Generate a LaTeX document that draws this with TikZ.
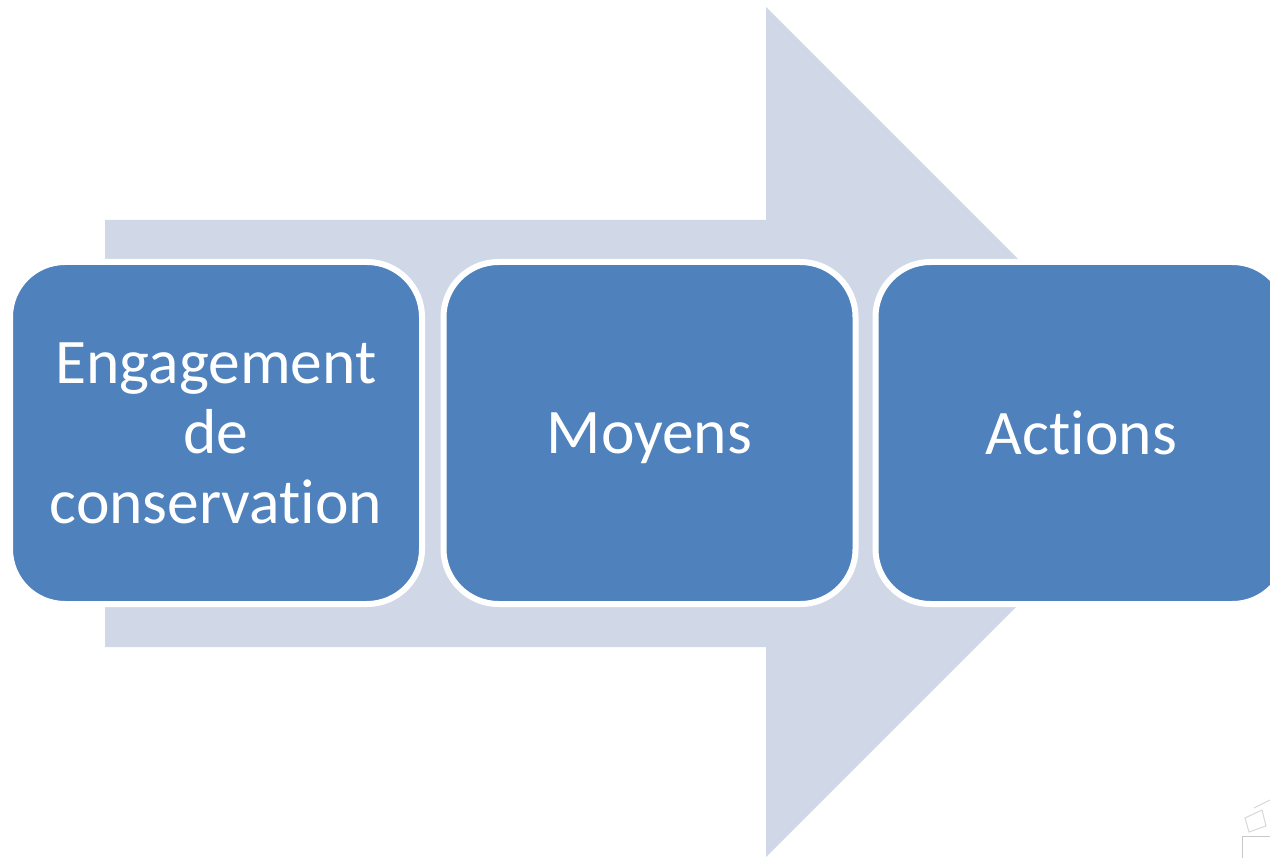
\documentclass[tikz,border=0pt]{standalone}
\usepackage{fontspec}
\setmainfont{Carlito}[Ligatures={NoCommon}]
\definecolor{boxblue}{RGB}{79,129,189}
\definecolor{arrowgray}{RGB}{208,216,232}
\definecolor{faint}{RGB}{200,200,200}
\begin{document}
\begin{tikzpicture}[x=1pt,y=-1pt,
  stagebox/.style={draw=white, line width=6pt, fill=boxblue, rounded corners=55pt,
    minimum width=412pt, minimum height=342pt, text=white, align=center,
    font=\fontsize{63.5}{70}\selectfont, text depth=0pt, inner sep=0pt},
  bigarrow/.style={fill=arrowgray, draw=none}]
\useasboundingbox (0,0) rectangle (1270,858);
\fill[white] (0,0) rectangle (1270,858);
\begin{scope}
\clip (0,0) rectangle (1270,858);
\path[bigarrow] (105,220) -- (766,220) -- (766,7) -- (1191,432) -- (766,857) -- (766,647) -- (105,647) -- cycle;
\node[stagebox] (b1) at (216,433) {Engagement\\de\\conservation};
\node[stagebox] (b2) at (649.5,433) {Moyens};
\node[stagebox] (b3) at (1081.5,433) {Actions};
% faint artifact at bottom right
\draw[faint, line width=1pt] (1242,860) -- (1242,836) -- (1275,836);
\draw[faint!70, line width=1pt] (1245,818) -- (1262,810) -- (1266,826) -- (1249,832) -- cycle;
\draw[faint!70, line width=1pt] (1254,808) -- (1270,800);
\end{scope}
\end{tikzpicture}
\end{document}
